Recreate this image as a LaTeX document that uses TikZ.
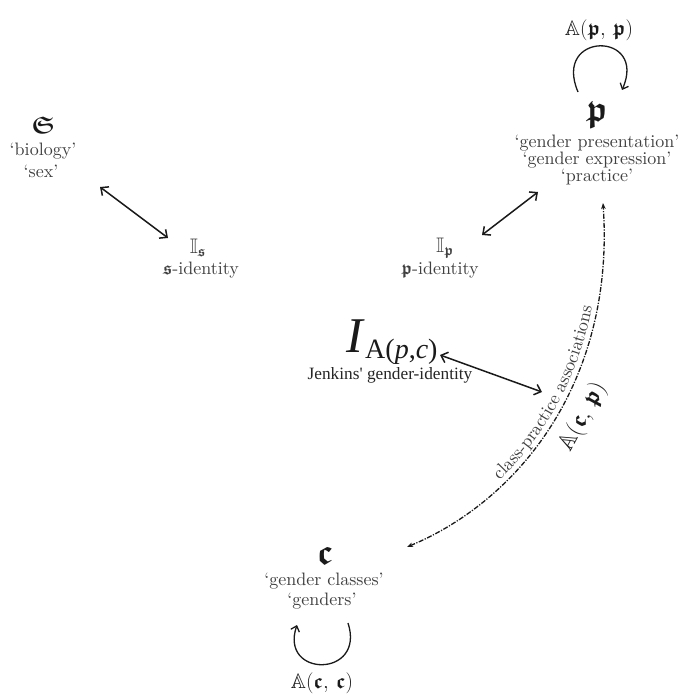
\RequirePackage{fix-cm}
\documentclass[tikz,border=0pt]{standalone}
\usepackage{amssymb}
\usepackage{bm}
\usepackage{fontspec}
\setmainfont{lmroman10-regular.otf}[Ligatures=TeX, ItalicFont=lmroman10-italic.otf, BoldFont=lmroman10-bold.otf]
\newfontfamily\timesf{Liberation Serif}
\usetikzlibrary{arrows.meta,decorations.text}
\definecolor{labc}{HTML}{404040}
\definecolor{symc}{HTML}{1A1A1A}
\tikzset{
  lbl/.style={text=labc, font=\fontsize{18}{18}\selectfont, inner sep=0pt},
  symb/.style={text=symc, inner sep=0pt},
  bigsym/.style={symb, font=\fontsize{36}{36}\selectfont},
  midsym/.style={symb, font=\fontsize{21}{21}\selectfont},
  dbl/.style={{Straight Barb[length=6pt,width=11pt]}-{Straight Barb[length=6pt,width=11pt]}, line width=1.5pt, draw=symc},
  loopar/.style={-{Straight Barb[length=5pt,width=9pt]}, line width=1.3pt, draw=symc},
  assoc/.style={{Stealth[length=6pt,width=4.5pt]}-{Stealth[length=6pt,width=4.5pt]}, line width=1.3pt,
    dash pattern=on 5pt off 1.5pt on 1.2pt off 1.5pt, draw=symc}
}
\begin{document}
\begin{tikzpicture}[x=1pt,y=-1pt]
\fill[white] (0,0) rectangle (684,695);
\useasboundingbox (0,0) rectangle (684,695);

% sex block
\node[symb, font=\fontsize{24}{24}\selectfont] (S) at (43,125) {$\bm{\mathfrak{S}}$};
\node[lbl] (bio) at (43,151) {`biology'};
\node[lbl] (sex) at (41,171) {`sex'};
\node[midsym, text=labc] (Is) at (198,248) {$\mathbb{I}_{\bm{\mathfrak{s}}}$};
\node[lbl] (sid) at (201,270) {$\bm{\mathfrak{s}}$-identity};

% practice block
\node[midsym] (App) at (599,30) {$\mathbb{A}(\bm{\mathfrak{p}},\,\bm{\mathfrak{p}})$};
\node[bigsym] (p) at (597,115) {$\bm{\mathfrak{p}}$};
\node[lbl] (gp) at (597,143) {`gender presentation'};
\node[lbl] (ge) at (597,160) {`gender expression'};
\node[lbl] (pr) at (597,177) {`practice'};
\node[midsym, text=labc] (Ip) at (445,248) {$\mathbb{I}_{\bm{\mathfrak{p}}}$};
\node[lbl] (pid) at (440,270) {$\bm{\mathfrak{p}}$-identity};

% Jenkins
\node[symb, anchor=base, font={\fontsize{50}{50}\timesf\itshape}] (I) at (355,352) {I};
\node[symb, anchor=base west, font={\fontsize{28}{28}\timesf}] (Isub) at (365,358) {A(\textit{p},\textit{c})};
\node[font={\fontsize{17.3}{18}\timesf}, text=black!85, inner sep=0pt] (jk) at (390,375) {Jenkins' gender-identity};

% classes block
\node[bigsym] (c) at (325,556) {$\bm{\mathfrak{c}}$};
\node[lbl] (gc) at (324,581) {`gender classes'};
\node[lbl] (gs) at (322,601) {`genders'};
\node[midsym] (Acc) at (322,683) {$\mathbb{A}(\bm{\mathfrak{c}},\,\bm{\mathfrak{c}})$};

% connector ends
\coordinate (sa) at (100,187);
\coordinate (sb) at (168,238);
\coordinate (pa) at (538,192);
\coordinate (pb) at (482,235);
\coordinate (ja) at (440,355);
\coordinate (jb) at (542,392);
\coordinate (ca) at (407,547);
\coordinate (cb) at (603,203);
\coordinate (tl1) at (578,92);
\coordinate (tl2) at (622,90);
\coordinate (bl1) at (348,623);
\coordinate (bl2) at (297,625);

\draw[dbl] (sa) -- (sb);
\draw[dbl] (pa) -- (pb);
\draw[dbl] (ja) -- (jb);

\draw[assoc] (ca) .. controls (520,500) and (615,380) .. (cb)
  node[pos=0.55, sloped, below=11pt, symb, font=\fontsize{24}{24}\selectfont] (Acp) {$\mathbb{A}(\bm{\mathfrak{c}},\,\bm{\mathfrak{p}})$};
\path[decorate, decoration={text along path,
   text={|\fontsize{18}{18}\selectfont|class-practice associations},
   text color=labc, text align={align=center, left indent=10pt}, raise=5pt}]
   (ca) .. controls (520,500) and (615,380) .. (cb);

\draw[loopar] (tl1) .. controls (552,31) and (648,31) .. (tl2);
\draw[loopar] (bl1) .. controls (366,678) and (279,678) .. (bl2);
\end{tikzpicture}
\end{document}
